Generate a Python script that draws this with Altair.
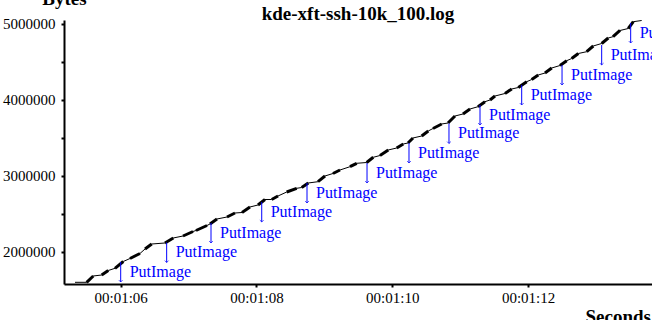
import altair as alt
import pandas as pd

# ---- data (seconds since 00:00:00, bytes) ----
first_t, first_b = 65.327, 1597400
last_t, last_b = 73.673, 5042100

burst_start_t = [65.499, 65.720, 65.916, 66.137, 66.358, 66.652, 66.918, 67.109, 67.315, 67.566,
                 67.787, 68.022, 68.224, 68.445, 68.666, 68.906, 69.127, 69.377, 69.623, 69.819,
                 70.065, 70.231, 70.433, 70.600, 70.821, 71.041, 71.262, 71.439, 71.660, 71.856,
                 72.053, 72.249, 72.470, 72.642, 72.863, 73.084, 73.251, 73.476]
burst_start_b = [1597400, 1693400, 1781600, 1910500, 2035500, 2114500, 2206600, 2279000, 2364500, 2456600,
                 2515800, 2614500, 2686900, 2785500, 2844700, 2921100, 3029000, 3118400, 3173700, 3265800,
                 3364500, 3430300, 3522400, 3621100, 3693400, 3811900, 3907900, 3996100, 4081600, 4160500,
                 4265800, 4351300, 4450000, 4542100, 4631600, 4739500, 4829000, 4936900]
burst_end_t = [65.596, 65.817, 66.038, 66.284, 66.457, 66.775, 67.065, 67.271, 67.418, 67.683,
               67.904, 68.125, 68.317, 68.592, 68.763, 69.009, 69.230, 69.476, 69.720, 69.941,
               70.162, 70.305, 70.530, 70.728, 70.924, 71.145, 71.365, 71.513, 71.759, 71.980,
               72.150, 72.348, 72.569, 72.740, 72.960, 73.181, 73.354, 73.550]
burst_end_b = [1680300, 1752600, 1871000, 1976300, 2101300, 2180300, 2265800, 2344700, 2430300, 2509200,
               2588200, 2686900, 2732900, 2834200, 2904000, 2996100, 3075000, 3163200, 3242100, 3338200,
               3417100, 3496100, 3588200, 3680300, 3785500, 3877700, 3973700, 4048700, 4140800, 4236900,
               4325000, 4417100, 4513200, 4607900, 4706600, 4811900, 4910600, 5026300]

put_t = [66.000, 66.677, 67.330, 68.077, 68.744, 69.628, 70.246, 70.835, 71.292, 71.906,
         72.500, 73.084, 73.511]
put_b = [1864500, 2121100, 2377600, 2654000, 2904000, 3167100, 3430300, 3686900, 3930300, 4193400,
         4456600, 4719800, 5009200]
put_label = "PutImage"
put_drop = 263000  # arrow length in bytes

x_ticks = [66, 68, 70, 72]
y_ticks = [2000000, 2500000, 3000000, 3500000, 4000000, 4500000, 5000000]
x_domain = [65.165, 73.825]
y_domain = [1575000, 5048700]

title_text = "kde-xft-ssh-10k_100.log"
x_title = "Seconds"
y_title = "Bytes"

# ---- tables ----
pts_t = [first_t]
pts_b = [first_b]
for a, b, c, d in zip(burst_start_t, burst_start_b, burst_end_t, burst_end_b):
    pts_t += [a, c]
    pts_b += [b, d]
pts_t.append(last_t)
pts_b.append(last_b)
line_df = pd.DataFrame({"t": pts_t, "b": pts_b, "i": range(len(pts_t))})
burst_df = pd.DataFrame({"t0": burst_start_t, "b0": burst_start_b,
                         "t1": burst_end_t, "b1": burst_end_b})
put_df = pd.DataFrame({"t": put_t, "b": put_b})
put_df["bb"] = put_df["b"] - put_drop
put_df["bm"] = put_df["b"] - put_drop / 2
put_df["label"] = put_label

SERIF = "Liberation Serif"

xs = alt.Scale(domain=x_domain, nice=False, zero=False)
ys = alt.Scale(domain=y_domain, nice=False, zero=False)

x_axis = alt.Axis(
    values=x_ticks,
    labelExpr="'00:01:' + (datum.value < 70 ? '0' : '') + format(datum.value - 60, 'd')",
    grid=False, domainColor="black", domainWidth=2, tickColor="black", tickWidth=2,
    tickSize=3, labelPadding=3, labelFont=SERIF, labelFontSize=15, labelColor="black",
    title=x_title, titleFont=SERIF, titleFontSize=19, titleFontWeight="bold", titleColor="black",
    titleX=521, titleY=38, titleAlign="left", titleBaseline="alphabetic", labelFlush=False,
)
y_axis = alt.Axis(
    values=y_ticks,
    labelExpr="datum.value % 1000000 == 0 ? format(datum.value, 'd') : ''",
    grid=False, domainColor="black", domainWidth=2, tickColor="black", tickWidth=2,
    tickSize=3, labelPadding=6, labelFont=SERIF, labelFontSize=15, labelColor="black",
    title=y_title, titleFont=SERIF, titleFontSize=19, titleFontWeight="bold", titleColor="black",
    titleAngle=0, titleX=0, titleY=-16, titleAlign="center", titleBaseline="alphabetic",
    labelFlush=False,
)

line = alt.Chart(line_df).mark_line(color="black", strokeWidth=1, clip=True).encode(
    x=alt.X("t:Q", scale=xs, axis=x_axis),
    y=alt.Y("b:Q", scale=ys, axis=y_axis),
    order="i:Q",
)
bursts = alt.Chart(burst_df).mark_rule(color="black", strokeWidth=3, clip=True).encode(
    x=alt.X("t0:Q", scale=xs), y=alt.Y("b0:Q", scale=ys), x2="t1:Q", y2="b1:Q",
)
arrows = alt.Chart(put_df).mark_rule(color="#0000ff", strokeWidth=1, clip=True).encode(
    x=alt.X("t:Q", scale=xs), y=alt.Y("b:Q", scale=ys), y2="bb:Q",
)
heads = alt.Chart(put_df).mark_point(
    shape="M-1,-1L0,0L1,-1", size=14, filled=False, color="#0000ff", strokeWidth=1, clip=True
).encode(x=alt.X("t:Q", scale=xs), y=alt.Y("bb:Q", scale=ys))
labels = alt.Chart(put_df).mark_text(
    align="left", baseline="middle", dx=9, font=SERIF, fontSize=16, color="#0000ff"
).encode(x=alt.X("t:Q", scale=xs), y=alt.Y("bm:Q", scale=ys), text="label:N")

title = alt.Chart(pd.DataFrame({"txt": [title_text]})).mark_text(
    align="center", baseline="alphabetic", font=SERIF, fontSize=19, fontWeight="bold", color="black"
).encode(x=alt.value(294), y=alt.value(0), text="txt:N")

chart = alt.layer(line, bursts, arrows, heads, labels, title).properties(
    width=588, height=264,
    padding={"left": 64, "top": 20, "right": 0, "bottom": 36},
    autosize=alt.AutoSizeParams(type="none"),
    background="white",
).configure_view(stroke=None)

chart.save("out.html", embed_options={"renderer": "svg", "actions": False})
